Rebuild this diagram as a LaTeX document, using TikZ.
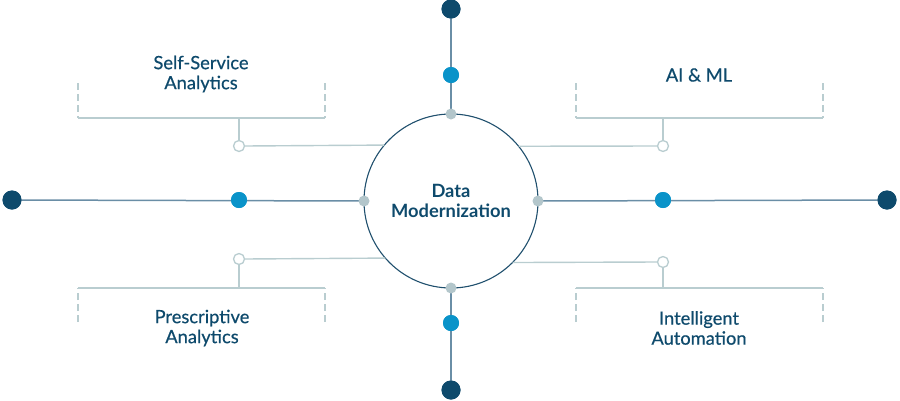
\documentclass[tikz,border=0pt]{standalone}
\usepackage{fontspec}
\setmainfont{Lato}
\newfontfamily\labelfont{Lato}[FakeBold=0.5]
\definecolor{navy}{HTML}{0E4A6C}
\definecolor{bluedot}{HTML}{0A93C9}
\definecolor{graydot}{HTML}{B3C6CB}
\definecolor{axisline}{HTML}{6A8EA6}
\definecolor{branch}{HTML}{B9CDD0}
\definecolor{ring}{HTML}{1F4F6D}
\begin{document}
\begin{tikzpicture}[x=1pt,y=-1pt,
  darkdot/.style={circle,fill=navy,inner sep=0pt,minimum size=19pt,outer sep=0pt},
  midot/.style={circle,fill=bluedot,inner sep=0pt,minimum size=16pt,outer sep=0pt},
  hubdot/.style={circle,fill=graydot,inner sep=0pt,minimum size=11pt,outer sep=0pt},
  opendot/.style={circle,draw=branch,fill=white,line width=1.3pt,inner sep=0pt,minimum size=11pt,outer sep=0pt},
  axis/.style={draw=axisline,line width=1.5pt},
  branchline/.style={draw=branch,line width=1.4pt},
  sidedash/.style={draw=branch,line width=1.4pt,dash pattern=on 7pt off 4pt},
  label/.style={text=navy,font=\labelfont\fontsize{18.3}{20}\selectfont,align=center,inner sep=0pt},
]
\useasboundingbox (0,0) rectangle (900,400);
% hub
\node[circle,draw=ring,line width=1.1pt,minimum size=174pt,inner sep=0pt,outer sep=0pt,
  font=\bfseries\fontsize{18.3}{20}\selectfont,text=navy,align=center] (hub) at (451,201) {Data\\Modernization};
% axis dots
\node[darkdot] (tdark) at (451,9) {};
\node[midot] (tblue) at (451,75) {};
\node[darkdot] (bdark) at (451,390) {};
\node[midot] (bblue) at (451,323) {};
\node[darkdot] (ldark) at (12,200) {};
\node[midot] (lblue) at (239,200) {};
\node[darkdot] (rdark) at (887,200) {};
\node[midot] (rblue) at (663,200) {};
% axis lines
\draw[axis] (tdark.center) -- (hub.north);
\draw[axis] (hub.south) -- (bdark.center);
\draw[axis] (ldark.center) -- (hub.west);
\draw[axis] (hub.east) -- (rdark.center);
% redraw dots over lines
\node[darkdot] at (tdark) {};
\node[midot] at (tblue) {};
\node[darkdot] at (bdark) {};
\node[midot] at (bblue) {};
\node[darkdot] at (ldark) {};
\node[midot] at (lblue) {};
\node[darkdot] at (rdark) {};
\node[midot] at (rblue) {};
\node[hubdot] (hn) at (hub.north) {};
\node[hubdot] (hs) at (hub.south) {};
\node[hubdot] (hw) at (hub.west) {};
\node[hubdot] (he) at (hub.east) {};
% branch open dots
\node[opendot] (ul) at (239,146) {};
\node[opendot] (ur) at (663,146) {};
\node[opendot] (ll) at (239,259) {};
\node[opendot] (lr) at (663,262) {};
% bracket coordinates
\coordinate (ulL) at (78,118);  \coordinate (ulR) at (325,118); \coordinate (ulS) at (239,118);
\coordinate (urL) at (576,118); \coordinate (urR) at (823,118); \coordinate (urS) at (663,118);
\coordinate (llL) at (78,288);  \coordinate (llR) at (325,288); \coordinate (llS) at (239,288);
\coordinate (lrL) at (576,288); \coordinate (lrR) at (823,288); \coordinate (lrS) at (663,288);
% branch lines
\draw[branchline] (hub.140.8) -- (ul.east);
\draw[branchline] (hub.39.4) -- (ur.west);
\draw[branchline] (hub.221.8) -- (ll.east);
\draw[branchline] (hub.315.5) -- (lr.west);
\draw[branchline] (ul.north) -- (ulS);
\draw[branchline] (ur.north) -- (urS);
\draw[branchline] (ll.south) -- (llS);
\draw[branchline] (lr.south) -- (lrS);
% brackets
\draw[branchline] (ulL) -- (ulR);
\draw[branchline] (urL) -- (urR);
\draw[branchline] (llL) -- (llR);
\draw[branchline] (lrL) -- (lrR);
\draw[sidedash] (78,83) -- (ulL);
\draw[sidedash] (325,83) -- (ulR);
\draw[sidedash] (576,83) -- (urL);
\draw[sidedash] (823,83) -- (urR);
\draw[sidedash] (78,322) -- (llL);
\draw[sidedash] (325,322) -- (llR);
\draw[sidedash] (576,322) -- (lrL);
\draw[sidedash] (823,322) -- (lrR);
% labels
\node[label] (t1) at (201,74) {Self-Service\\Analytics};
\node[label] (t2) at (699,75) {AI \& ML};
\node[label] (t3) at (202,328) {Prescriptive\\Analytics};
\node[label] (t4) at (699,328) {Intelligent\\Automation};
\end{tikzpicture}
\end{document}
